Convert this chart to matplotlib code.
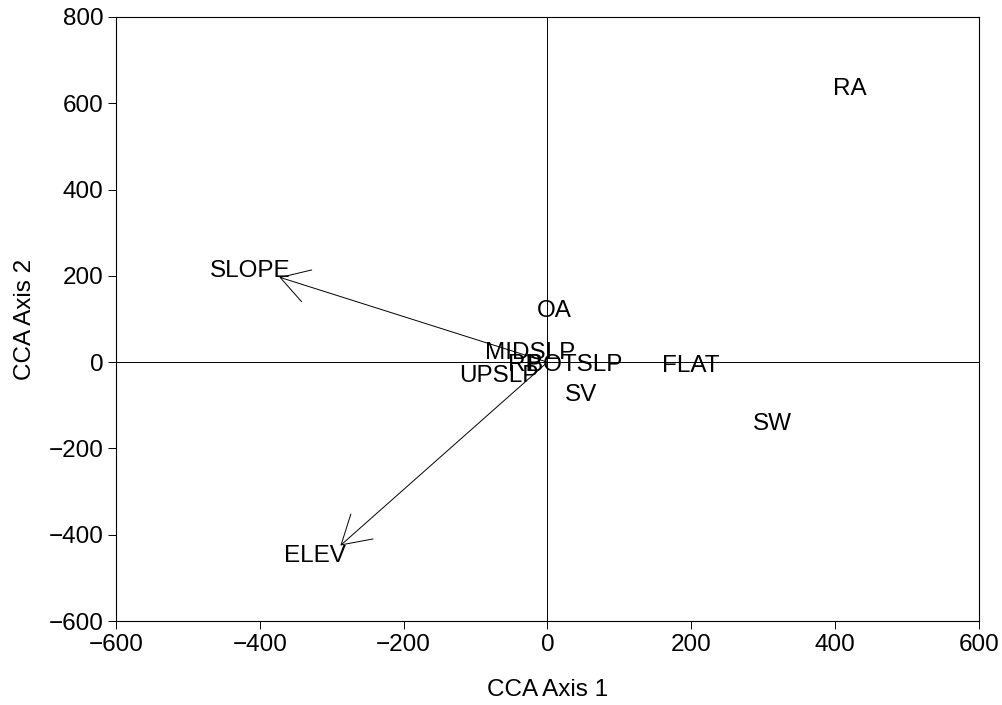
import matplotlib.pyplot as plt
import numpy as np

plt.rcParams['font.family'] = ['Liberation Sans', 'DejaVu Sans']

# species / site labels (centered at their scores)
labels = ['RA', 'SW', 'FLAT', 'SV', 'OA', 'BOTSLP', 'RP', 'MIDSLP', 'UPSLP']
label_x = [421, 313, 199, 47, 10, 38, -32, -24, -67]
label_y = [640, -137, -2, -70, 125, 0, 0, 28, -26]

# environmental vectors
env_names = ['SLOPE', 'ELEV']
env_x = [-373, -288]
env_y = [197, -425]
env_label_x = [-413, -323]
env_label_y = [218, -443]

fs = 17.5

fig = plt.figure(figsize=(10.03, 7.05), dpi=100)
ax = fig.add_axes([0.1157, 0.1191, 0.8603, 0.8568])

ax.axhline(0, color='black', lw=0.7, zorder=1)
ax.axvline(0, color='black', lw=0.7, zorder=1)

for name, x, y, tx, ty in zip(env_names, env_x, env_y, env_label_x, env_label_y):
    ax.annotate('', xy=(x, y), xytext=(0, 0),
                arrowprops=dict(arrowstyle='->,head_length=1.0,head_width=0.6',
                                mutation_scale=20, color='black', lw=0.7,
                                shrinkA=0, shrinkB=0))
    ax.text(tx, ty, name, fontsize=fs, ha='center', va='center_baseline')

for lab, x, y in zip(labels, label_x, label_y):
    ax.text(x, y, lab, fontsize=fs, ha='center', va='center_baseline')

ax.set_xlim(-600, 600)
ax.set_ylim(-600, 800)
ax.set_xticks(np.arange(-600, 601, 200))
ax.set_yticks(np.arange(-600, 801, 200))
ax.tick_params(direction='out', length=6, width=0.7, labelsize=fs, pad=3)
for s in ax.spines.values():
    s.set_linewidth(0.8)

ax.set_xlabel('CCA Axis 1', fontsize=fs, labelpad=17)
ax.set_ylabel('CCA Axis 2', fontsize=fs, labelpad=9)

fig.savefig('out.png', dpi=100)
